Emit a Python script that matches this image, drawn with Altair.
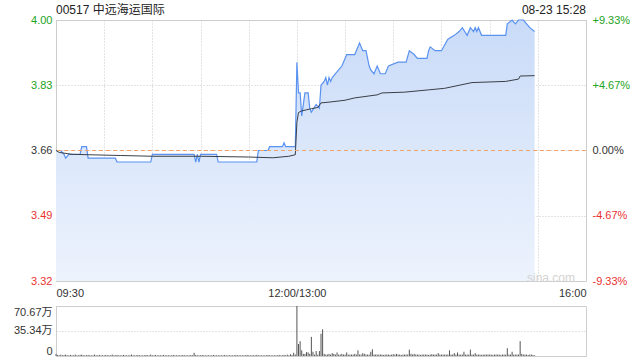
import altair as alt
import pandas as pd

# ---------------- data ----------------
title_text = "00517 中远海运国际"
time_text = "08-23 15:28"
watermark = "sina.com"
prev_close = 3.66
price_ticks = [3.32, 3.49, 3.66, 3.83, 4.00]
pct_labels = ["-9.33%", "-4.67%", "0.00%", "+4.67%", "+9.33%"]
grid_minutes = [0, 30, 60, 90, 120, 150, 180, 210, 240, 270, 300, 330]
label_minutes = [0, 150, 330]
label_texts = ["09:30", "12:00/13:00", "16:00"]
vol_ticks = [0, 35.34, 70.67]
vol_tick_labels = ["0", "35.34万", "70.67万"]

# minutes since 09:30 (afternoon continues at 150 = 13:00)
price_minute = [0, 3, 5, 6, 8, 15, 16, 19, 20, 37, 38, 59, 60, 86, 87, 88, 89, 90,
                100, 101, 125, 126, 132, 133, 141, 142, 143, 149,
                150, 151, 152, 153, 154, 155, 157, 158, 159, 162, 164, 165, 167, 168,
                169, 170, 171, 172, 174, 176, 178, 179, 181, 186, 187, 189, 191, 193,
                195, 196, 198, 200, 202, 205, 207, 213, 218, 220, 223, 225, 231, 232,
                233, 236, 240, 244, 248, 251, 253, 256, 258, 260, 261, 262, 263, 265,
                280, 281, 284, 286, 288, 291, 293, 295, 298]
price_value = [3.66, 3.66, 3.65, 3.64, 3.65, 3.65, 3.67, 3.67, 3.64, 3.64, 3.63, 3.63, 3.65, 3.65, 3.63, 3.65, 3.63, 3.65,
               3.65, 3.63, 3.63, 3.66, 3.66, 3.67, 3.67, 3.68, 3.67, 3.67,
               3.89, 3.81, 3.81, 3.75, 3.78, 3.81, 3.81, 3.77, 3.76, 3.78, 3.77, 3.83, 3.84, 3.85,
               3.83, 3.85, 3.84, 3.85, 3.86, 3.87, 3.88, 3.89, 3.91, 3.91, 3.92, 3.94, 3.92, 3.92,
               3.88, 3.87, 3.86, 3.88, 3.86, 3.86, 3.88, 3.89, 3.89, 3.92, 3.91, 3.90, 3.90, 3.92,
               3.93, 3.92, 3.92, 3.95, 3.96, 3.97, 3.98, 3.96, 3.98, 3.97, 3.98, 3.97, 3.98, 3.96,
               3.96, 3.99, 4.00, 3.99, 4.00, 4.00, 3.99, 3.98, 3.97]
avg_minute = [0, 2, 10, 20, 40, 60, 90, 120, 135, 145, 149,
              150, 151, 153, 159, 163, 165, 170, 180, 186, 200, 203, 217, 232, 242, 259,
              280, 288, 289, 298]
avg_value = [3.660, 3.655, 3.650, 3.649, 3.647, 3.645, 3.645, 3.643, 3.641, 3.645, 3.649,
             3.734, 3.759, 3.763, 3.769, 3.772, 3.784, 3.786, 3.791, 3.797, 3.805, 3.810, 3.812,
             3.818, 3.822, 3.837, 3.840, 3.846, 3.854, 3.855]
# volume per minute, in 万 shares, 09:30 .. 15:28
volume = [
    3, 1.5, 1, 2, 1, 1.5, 2, 1, 1, 1.5, 1, 1, 2, 1, 1, 1.5, 2, 1, 1, 1, 1.5, 1, 1, 1, 2, 1, 1, 1.5, 1, 1,
    1, 1.5, 1, 1, 1, 2, 1, 1, 1.5, 1, 1, 1, 1.5, 1, 1, 1, 1, 2, 1, 1, 1, 1.5, 1, 1, 1, 1, 1.5, 1, 1, 2,
    1, 1, 1.5, 1, 1, 1, 1, 1.5, 1, 1, 1, 1, 1, 1.5, 1, 1, 1, 1, 1, 1.5, 1, 1, 1, 1, 1.5, 1, 4.5, 1.5, 1, 1,
    1, 1.5, 1, 1, 1, 1, 1, 1, 1.5, 1, 1, 1, 1, 1, 1, 1.5, 1, 1, 1, 1, 1, 1, 1.5, 1, 1, 1, 1, 1, 1, 1.5,
    1, 1, 1, 1, 1, 1.5, 1, 1, 1, 1, 1, 1, 1.5, 1, 1, 1, 1, 1, 1, 1.5, 1, 1, 1.5, 1, 2, 1, 2.5, 1.5, 4.5, 2,
    70.67, 17, 21, 8, 3, 3, 5.5, 5, 3, 27, 6, 2, 7, 2, 7, 31.5, 37.7, 3, 2, 2, 3, 2, 4, 3, 2, 5, 2, 2, 3, 2,
    2, 5, 2, 2, 2, 2, 3, 2, 8, 2, 2, 4, 3, 2, 2, 2, 6, 9.5, 2, 2, 2, 2, 2, 2, 1.5, 2, 2, 2, 1.5, 2,
    2.5, 2, 3, 2, 2, 1.5, 2, 2, 2, 2, 9, 3, 2, 3, 2, 2, 2, 1.5, 2, 2, 2, 2, 1.5, 2, 2.5, 2, 2, 2, 4, 2,
    2, 2, 2, 2, 2, 8, 2, 2, 4, 2, 5, 2, 2, 2, 6, 2, 2, 2, 9, 2, 2, 4, 2, 2, 2, 1.5, 2, 2, 2, 2,
    2, 2, 1.5, 2, 2, 2, 2, 1.5, 2, 2, 2, 11, 2, 2, 6, 2, 2, 2, 2, 21, 3, 2, 2, 2, 1.5, 2, 2, 1.5, 1,
]

# ---------------- style ----------------
W = 530
H_PRICE = 261
H_VOL = 50
FONT = "Liberation Sans, Arial, 'Noto Sans CJK SC', sans-serif"
GREEN = "#22a322"
RED = "#ea3232"
TEXT = "#333333"
BLUE = "#5a92f0"
GRIDC = "#c8c8c8"


def label_map(vals, labels):
    return "".join(f"abs(datum.value - {v}) < 0.001 ? '{l}' : " for v, l in zip(vals, labels)) + "''"


color_expr = (f"datum.value > {prev_close} + 0.001 ? '{GREEN}' : "
              f"datum.value < {prev_close} - 0.001 ? '{RED}' : '{TEXT}'")

price_df = pd.DataFrame({"m": price_minute, "p": price_value})
avg_df = pd.DataFrame({"m": avg_minute, "p": avg_value})
vol_df = pd.DataFrame({"m": list(range(len(volume))), "v": volume})

xscale = alt.Scale(domain=[0, 330], nice=False, zero=False)
yscale = alt.Scale(domain=[3.32, 4.00], nice=False, zero=False)

x_axis = alt.Axis(values=grid_minutes, labelExpr=label_map(label_minutes, label_texts),
                  labelFlush=True, labelOverlap=False, ticks=False, domain=False,
                  grid=True, gridDash=[1, 2], gridColor=GRIDC, labelPadding=6, title=None,
                  orient="bottom")
X = alt.X("m:Q", scale=xscale, axis=x_axis)

left_axis = alt.Axis(values=price_ticks, format=".2f", labelColor={"expr": color_expr},
                     ticks=False, domain=False, grid=True, gridDash=[1, 2], gridColor=GRIDC,
                     labelPadding=4, title=None, orient="left")
right_axis = alt.Axis(orient="right", values=price_ticks, labelExpr=label_map(price_ticks, pct_labels),
                      labelColor={"expr": color_expr}, ticks=False, domain=False, grid=False,
                      labelPadding=6, title=None)

area = alt.Chart(price_df).mark_area(
    color=alt.Gradient(gradient="linear",
                       stops=[alt.GradientStop(color="#edf3fd", offset=0),
                              alt.GradientStop(color="#c9dbf8", offset=1)],
                       x1=1, x2=1, y1=1, y2=0)
).encode(
    x=X,
    y=alt.Y("p:Q", scale=yscale, axis=left_axis),
    y2=alt.datum(3.32),
)

price_line = alt.Chart(price_df).mark_line(color=BLUE, strokeWidth=1.2).encode(
    x=X,
    y=alt.Y("p:Q", scale=yscale, axis=None),
)

avg_line = alt.Chart(avg_df).mark_line(color="#3a3f47", strokeWidth=1).encode(
    x=X,
    y=alt.Y("p:Q", scale=yscale, axis=None),
)

prev_rule = alt.Chart(pd.DataFrame({"p": [prev_close]})).mark_rule(
    color="#f2a36b", strokeDash=[4, 3], strokeWidth=1
).encode(
    y=alt.Y("p:Q", scale=yscale, axis=right_axis),
)

head_title = alt.Chart(pd.DataFrame({"t": [title_text]})).mark_text(
    align="left", baseline="bottom", fontSize=12, font=FONT, color="#222222"
).encode(x=alt.value(0), y=alt.value(-3), text="t:N")

stamp = alt.Chart(pd.DataFrame({"t": [time_text]})).mark_text(
    align="right", baseline="bottom", fontSize=12, font=FONT, color="#222222"
).encode(x=alt.value(W), y=alt.value(-3), text="t:N")

mark_wm = alt.Chart(pd.DataFrame({"t": [watermark]})).mark_text(
    align="right", baseline="middle", fontSize=12, font=FONT, color="#d2d2d2"
).encode(x=alt.value(W - 11), y=alt.value(H_PRICE - 3), text="t:N")

price_panel = alt.layer(area, price_line, avg_line, prev_rule, head_title, stamp, mark_wm).resolve_axis(
    y="independent"
).properties(width=W, height=H_PRICE)

vol_panel = alt.Chart(vol_df).mark_rule(color="#555555", strokeWidth=1).encode(
    x=alt.X("m:Q", scale=xscale, axis=None),
    y=alt.Y("v:Q", scale=alt.Scale(domain=[0, 70.67], nice=False),
            axis=alt.Axis(values=vol_ticks, labelExpr=label_map(vol_ticks, vol_tick_labels),
                          labelFlush=True, ticks=False, domain=False, grid=True,
                          gridDash=[1, 2], gridColor=GRIDC, labelPadding=4, title=None,
                          labelColor=TEXT)),
    y2=alt.datum(0),
).properties(width=W, height=H_VOL)

chart = alt.vconcat(price_panel, vol_panel, spacing=6).properties(
    padding={"left": 12, "top": 3, "right": 5, "bottom": 0},
    background="white",
).configure_view(
    stroke="#cfcfcf", strokeWidth=1
).configure_axis(
    labelFont=FONT, labelFontSize=11, labelColor=TEXT
).configure_concat(spacing=6)

chart.save("out.html", embed_options={"renderer": "svg", "actions": False})
